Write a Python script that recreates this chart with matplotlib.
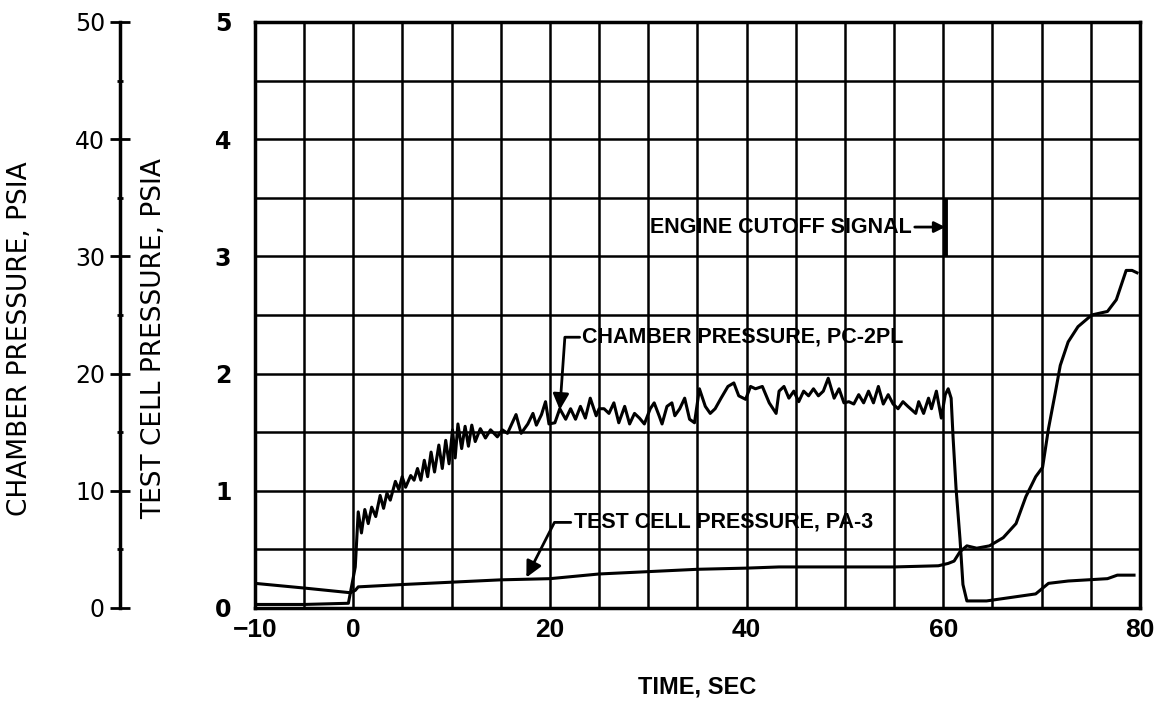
import numpy as np
import matplotlib.pyplot as plt
from matplotlib.ticker import MultipleLocator

plt.rcParams['font.family'] = ['DejaVu Sans']
# narrower bold face for the plotter lettering
narrow = ['Liberation Sans', 'DejaVu Sans']

# axis ticks
time_ticks = [-10, 0, 20, 40, 60, 80]
cell_ticks = [0, 1, 2, 3, 4, 5]
chamber_ticks = [0, 10, 20, 30, 40, 50]

# chamber pressure PC-2PL (psia)
chamber_t = [-10, -5, -0.5, 0.2, 0.5, 0.83, 1.17, 1.52, 1.87, 2.28, 2.73, 3.08, 3.42,
             3.76, 4.28, 4.63, 4.97, 5.32, 5.84, 6.18, 6.53, 6.87, 7.22, 7.56, 7.91,
             8.26, 8.7, 9.05, 9.4, 9.74, 10.09, 10.36, 10.64, 11.02, 11.37, 11.71,
             12.05, 12.4, 12.92, 13.44, 13.96, 14.65, 15.16, 15.68, 16.55, 17.07,
             17.75, 18.27, 18.62, 19.14, 19.55, 19.9, 20.5, 21.0, 21.6, 22.1, 22.6,
             23.1, 23.6, 24.1, 24.7, 25.0, 25.5, 26.0, 26.5, 27.0, 27.6, 28.1, 28.6,
             29.1, 29.6, 30.2, 30.6, 31.1, 31.4, 31.9, 32.4, 32.7, 33.2, 33.7, 34.2,
             34.7, 35.2, 35.8, 36.3, 36.8, 37.4, 38.1, 38.7, 39.2, 39.9, 40.4, 40.9,
             41.6, 42.3, 43.0, 43.3, 43.8, 44.3, 44.8, 45.3, 45.8, 46.3, 46.8, 47.3,
             47.8, 48.3, 48.9, 49.4, 49.9, 50.4, 50.9, 51.4, 51.9, 52.4, 52.9, 53.4,
             53.9, 54.4, 54.9, 55.4, 55.9, 56.4, 57.2, 57.5, 58.0, 58.5, 58.8, 59.3,
             59.8, 60.2, 60.5, 60.8, 61.0, 61.3, 61.7, 62.0, 62.4, 64.4, 67.7, 69.4,
             70.7, 72.7, 74.7, 76.7, 77.7, 79.4]
chamber_p = [0.3, 0.3, 0.4, 3.5, 8.2, 6.4, 8.4, 7.2, 8.6, 7.8, 9.6, 8.5, 9.8,
             9.2, 10.8, 10.1, 11.2, 10.3, 11.3, 10.9, 11.9, 10.9, 12.6, 11.2, 13.3,
             11.6, 13.9, 11.9, 14.3, 12.3, 15.2, 12.8, 15.7, 13.6, 15.5, 13.8,
             15.6, 14.2, 15.3, 14.5, 15.2, 14.6, 15.2, 14.9, 16.5, 14.9,
             15.7, 16.6, 15.6, 16.5, 17.6, 15.7, 15.8, 17.0, 16.1, 17.0, 16.1,
             17.2, 16.2, 17.9, 16.4, 17.0, 17.0, 16.6, 17.5, 15.8, 17.2, 15.7, 16.6,
             16.2, 15.7, 17.0, 17.5, 16.4, 15.7, 17.2, 17.5, 16.4, 17.0, 17.9, 16.1,
             15.8, 18.7, 17.2, 16.6, 17.0, 17.9, 18.9, 19.2, 18.1, 17.8, 18.9, 18.7,
             18.9, 17.5, 16.6, 18.5, 18.9, 17.9, 18.5, 17.6, 18.5, 18.1, 18.7, 18.1,
             18.5, 19.6, 17.9, 18.7, 17.5, 17.6, 17.4, 18.2, 17.5, 18.5, 17.5, 18.9,
             17.4, 18.2, 17.4, 17.0, 17.6, 17.2, 16.6, 17.6, 16.6, 17.9, 17.0, 18.5,
             16.2, 18.2, 18.7, 17.9, 14.5, 10.2, 5.9, 2.0, 0.6, 0.6, 1.0, 1.2,
             2.1, 2.3, 2.4, 2.5, 2.8, 2.8]

# test cell pressure PA-3 (psia)
cell_t = [-10, -5, -0.3, 0.2, 0.5, 5, 10, 15, 20, 25, 30, 35, 40, 43.3, 50, 55,
          59.5, 60.5, 61.1, 61.7, 62.4, 63.4, 64.7, 66.1, 67.4, 68.4, 69.4, 70.1,
          70.7, 71.4, 71.9, 72.7, 73.7, 75.1, 76.7, 77.6, 78.6, 79.2, 79.7]
cell_p = [0.21, 0.17, 0.13, 0.15, 0.18, 0.20, 0.22, 0.24, 0.25, 0.29, 0.31, 0.33,
          0.34, 0.35, 0.35, 0.35, 0.36, 0.38, 0.40, 0.48, 0.53, 0.51, 0.53, 0.60,
          0.72, 0.95, 1.12, 1.20, 1.53, 1.84, 2.07, 2.27, 2.40, 2.50, 2.53, 2.63,
          2.88, 2.88, 2.86]

# engine cutoff signal mark
cutoff_t = 60.2
cutoff_span = [3.0, 3.5]

fig = plt.figure(figsize=(11.6, 7.15), dpi=100)
ax = fig.add_axes([0.2198, 0.1497, 0.7629, 0.8196])
ax.set_xlim(-10, 80)
ax.set_ylim(0, 5)

# grid every 5 sec and every 0.5 psia
ax.set_xticks(time_ticks)
ax.set_yticks(cell_ticks)
ax.xaxis.set_minor_locator(MultipleLocator(5))
ax.yaxis.set_minor_locator(MultipleLocator(0.5))
ax.grid(which='both', color='black', linewidth=1.8)
ax.set_axisbelow(True)
for s in ax.spines.values():
    s.set_linewidth(2.5)
ax.tick_params(which='both', length=0)
ax.tick_params(axis='x', labelsize=19, pad=7)
ax.tick_params(axis='y', labelsize=17, pad=17)
for lab in ax.get_xticklabels():
    lab.set_fontweight('bold')
    lab.set_family(narrow)
for lab in ax.get_yticklabels():
    lab.set_fontweight('bold')

ax.plot(cell_t, cell_p, color='black', linewidth=2.2)
ax.vlines(cutoff_t, cutoff_span[0], cutoff_span[1], color='black', linewidth=3.5)

# outer chamber pressure scale
ax2 = ax.twinx()
ax2.set_ylim(0, 50)
ax2.yaxis.tick_left()
ax2.yaxis.set_label_position('left')
ax2.spines['left'].set_position(('outward', 97))
ax2.spines['left'].set_visible(True)
ax2.spines['left'].set_linewidth(2.5)
for k in ['right', 'top', 'bottom']:
    ax2.spines[k].set_visible(False)
ax2.set_yticks(chamber_ticks)
ax2.yaxis.set_minor_locator(MultipleLocator(5))
ax2.tick_params(axis='y', which='major', direction='inout', length=14, width=2,
                labelsize=17, pad=4)
ax2.tick_params(axis='y', which='minor', direction='inout', length=4, width=2)
ax2.plot(chamber_t, chamber_p, color='black', linewidth=2.2)

ax.set_ylabel('TEST CELL PRESSURE, PSIA', fontsize=19)
ax.yaxis.set_label_coords(-0.0994, 0.459)
ax2.set_ylabel('CHAMBER PRESSURE, PSIA', fontsize=19)
ax2.yaxis.set_label_coords(-0.2508, 0.459)
ax.set_xlabel('TIME, SEC', fontsize=17, fontweight='bold', family=narrow,
              labelpad=24)

# annotations
arrow = dict(arrowstyle='-|>', color='black', linewidth=2, mutation_scale=24,
             shrinkA=0, shrinkB=0)
txt = dict(fontsize=15.5, fontweight='bold', family=narrow, ha='left', va='center')
ax.annotate('CHAMBER PRESSURE, PC-2PL', xy=(21.0, 1.69), xytext=(23.3, 2.31),
            arrowprops=dict(arrow, relpos=(0, 0.5),
                            connectionstyle='angle,angleA=180,angleB=86,rad=0'),
            **txt)
ax.annotate('TEST CELL PRESSURE, PA-3', xy=(17.6, 0.26), xytext=(22.4, 0.73),
            arrowprops=dict(arrow, relpos=(0, 0.5),
                            connectionstyle='angle,angleA=180,angleB=63,rad=0'),
            **txt)
ax.annotate('ENGINE CUTOFF SIGNAL', xy=(cutoff_t, 3.25), xytext=(30.2, 3.25),
            arrowprops=dict(arrow, relpos=(1, 0.5), mutation_scale=16), **txt)

fig.savefig('out.png', dpi=100)
